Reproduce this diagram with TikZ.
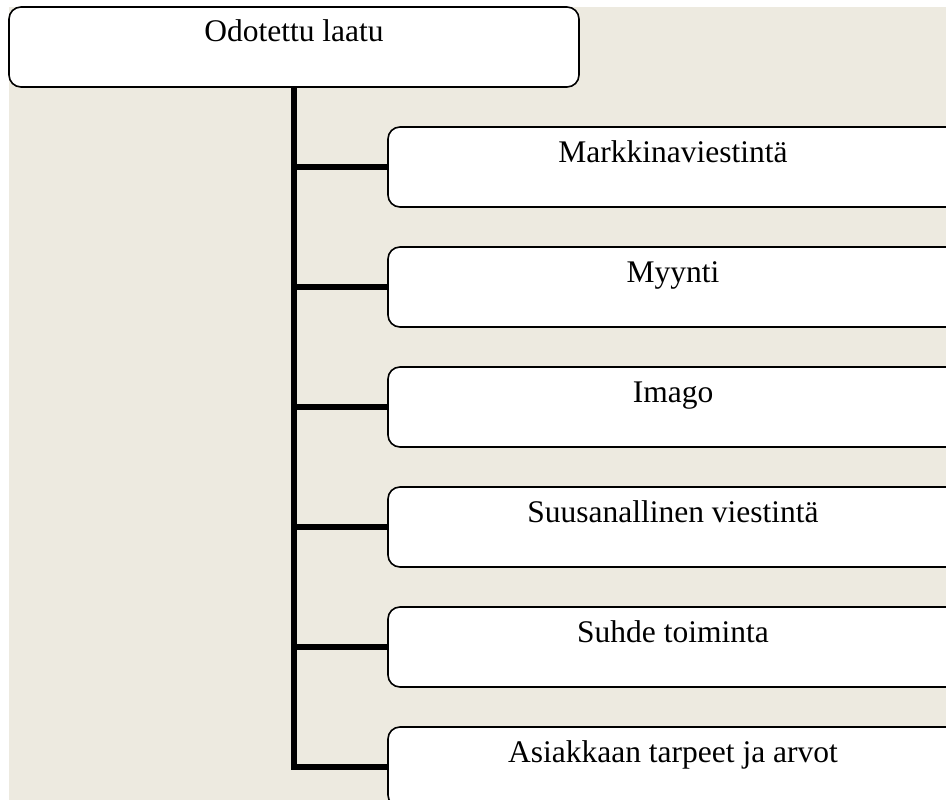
\documentclass[tikz,border=0pt]{standalone}
\usepackage{fontspec}
\setmainfont{Liberation Serif}
\definecolor{paper}{HTML}{EDEAE0}
\begin{document}
\begin{tikzpicture}[x=1pt,y=-1pt,
  box/.style={draw=black, line width=1.6pt, fill=white, rounded corners=12pt,
    minimum width=570pt, inner sep=0pt, text height=35pt, text depth=45pt,
    font=\fontsize{31.5}{38}\selectfont},
  % factor boxes run past the right margin; the label stays centred 285pt from the left edge
  factor/.style={box, minimum width=620pt, execute at begin node={\hspace*{-50pt}}},
  link/.style={draw=black, line width=6pt}]
\useasboundingbox (0,0) rectangle (946,800);
\fill[paper] (9,7) rectangle (946,800);

% root
\node[box] (top) at (294,47) {Odotettu laatu};

% factors
\node[factor] (f1) at (698,167) {Markkinaviestintä};
\node[factor] (f2) at (698,287) {Myynti};
\node[factor] (f3) at (698,407) {Imago};
\node[factor] (f4) at (698,527) {Suusanallinen viestintä};
\node[factor] (f5) at (698,647) {Suhde toiminta};
\node[factor] (f6) at (698,767) {Asiakkaan tarpeet ja arvot};

% trunk and branches
\draw[link] (top.south) -- (f6.west -| top.south) -- (f6.west);
\foreach \f in {f1,f2,f3,f4,f5}
  \draw[link] (\f.west -| top.south) -- (\f.west);
\end{tikzpicture}
\end{document}
